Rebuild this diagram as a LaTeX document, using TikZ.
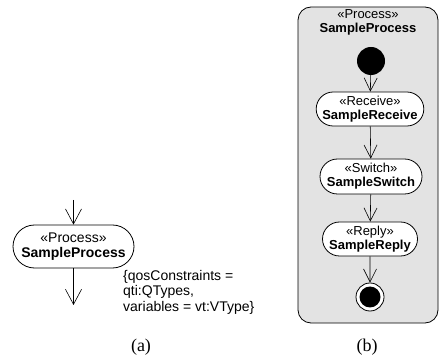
\documentclass[tikz,border=0pt]{standalone}
\usepackage{fontspec}
\setmainfont{Liberation Sans}
\newfontfamily\capfont{Liberation Serif}
\usetikzlibrary{arrows.meta,shapes.misc}
\begin{document}
\begin{tikzpicture}[x=1pt,y=-1pt,
  flow/.style={-{Straight Barb[length=15pt,width=16pt]}, line width=0.6pt},
  sflow/.style={-{Straight Barb[length=13pt,width=13pt]}, line width=0.6pt},
  act/.style={draw, rounded rectangle, line width=0.8pt, fill=white,
    align=center, inner sep=0pt, font=\fontsize{13}{14}\selectfont},
  bigact/.style={act, font=\fontsize{14}{15}\selectfont},
  caption/.style={font=\capfont\fontsize{18}{20}\selectfont},
  title/.style={font=\fontsize{13}{14}\selectfont, align=center}]
\useasboundingbox (0,0) rectangle (439,363);

% (a) the process as a single action
\node[bigact, minimum width=121pt, minimum height=43pt] (proc) at (73.5,246.5)
  {«Process»\\\textbf{SampleProcess}};
\coordinate (inA) at (73.5,200);
\coordinate (outA) at (73.5,305);
\draw[flow] (inA) -- (proc.north);
\draw[flow] (proc.south) -- (outA);
\node[anchor=north west, align=left, inner sep=0pt,
  font=\fontsize{14}{15.5}\selectfont] (qos) at (123,270)
  {\{qosConstraints =\\qti:QTypes,\\variables = vt:VType\}};
\node[caption] (capA) at (141,347) {(a)};

% (b) the process expanded into its activity
\draw[line width=0.8pt, fill=black!11, rounded corners=13pt] (298,7) rectangle (438,323);
\node[title] (ptitle) at (368,22) {«Process»\\\textbf{SampleProcess}};
\node[circle, fill=black, minimum size=28pt, inner sep=0pt] (init) at (371,61) {};
\node[act, minimum width=107pt, minimum height=34pt] (recv) at (370,109)
  {«Receive»\\\textbf{SampleReceive}};
\node[act, minimum width=102pt, minimum height=35pt] (sw) at (371,176.5)
  {«Switch»\\\textbf{SampleSwitch}};
\node[act, minimum width=95pt, minimum height=34pt] (rep) at (370,239)
  {«Reply»\\\textbf{SampleReply}};
\node[circle, draw, line width=0.8pt, fill=white, minimum size=28pt, inner sep=0pt] (fin) at (370,297) {};
\node[circle, fill=black, minimum size=21pt, inner sep=0pt] at (fin) {};
\draw[sflow] (init) -- (recv);
\draw[sflow] (recv) -- (sw);
\draw[sflow] (sw) -- (rep);
\draw[sflow] (rep) -- (fin);
\node[caption] (capB) at (367,347) {(b)};
\end{tikzpicture}
\end{document}
